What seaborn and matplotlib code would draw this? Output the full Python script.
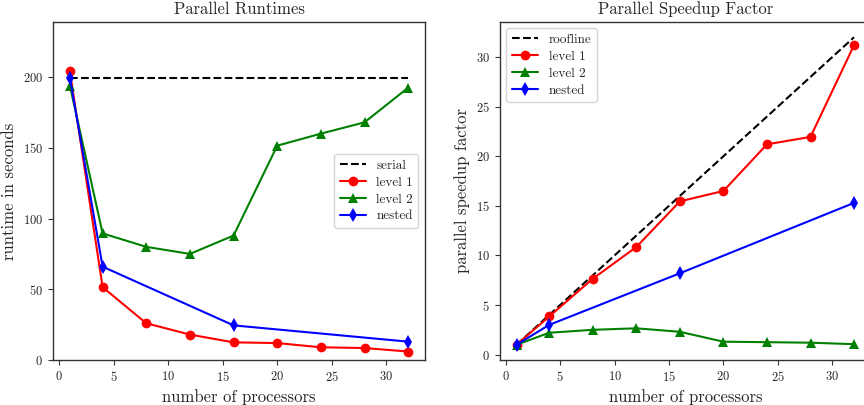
import matplotlib
matplotlib.use("Agg")
import matplotlib.pyplot as plt
import seaborn as sns
import pandas as pd

procs = [1, 4, 8, 12, 16, 20, 24, 28, 32]
nested_procs = [1, 4, 16, 32]
serial_time = [199.5, 199.5]
serial_x = [1, 32]

rt_level1 = [204, 51.5, 26, 18, 12.5, 12, 9, 8.5, 6]
rt_level2 = [194, 89.5, 80, 75, 88, 151.5, 160, 168, 192.5]
rt_nested = [199.5, 66, 24.5, 13]

roof_x = [1, 32]
roof_y = [1, 32]
sp_level1 = [1, 3.85, 7.65, 10.85, 15.45, 16.5, 21.2, 21.95, 31.2]
sp_level2 = [1, 2.2, 2.5, 2.65, 2.3, 1.3, 1.25, 1.2, 1.05]
sp_nested = [1, 3.0, 8.2, 15.3]

sns.set_style("ticks")
plt.rcParams["font.family"] = ["cmr10", "DejaVu Serif"]
plt.rcParams["mathtext.fontset"] = "cm"
plt.rcParams["axes.formatter.use_mathtext"] = True
plt.rcParams["axes.unicode_minus"] = False

fig = plt.figure(figsize=(8.64, 4.05), dpi=100)
ax1 = fig.add_axes([0.0613, 0.111, 0.4307, 0.835])
ax2 = fig.add_axes([0.5784, 0.111, 0.4296, 0.835])

for ax in (ax1, ax2):
    for s in ax.spines.values():
        s.set_visible(True)
        s.set_color("0.2")
        s.set_linewidth(1.0)
    ax.tick_params(labelsize=9, length=3.5, width=0.8, colors="0.2", labelcolor="0.15")

kw = dict(linewidth=1.5, markersize=7, markeredgewidth=0, estimator=None, sort=False)
leg_kw = dict(fontsize=9.5, frameon=True, fancybox=True, framealpha=0.8,
              labelspacing=0.35, handlelength=2.0)

sns.lineplot(x=serial_x, y=serial_time, ax=ax1, color="black", linestyle="--",
             linewidth=1.5, label="serial")
sns.lineplot(x=procs, y=rt_level1, ax=ax1, color="red", marker="o", label="level 1", **kw)
sns.lineplot(x=procs, y=rt_level2, ax=ax1, color="green", marker="^", label="level 2", **kw)
sns.lineplot(x=nested_procs, y=rt_nested, ax=ax1, color="blue", marker="d", label="nested", **kw)
ax1.set_ylim(0, 239)
ax1.set_xlim(-0.55, 33.55)
ax1.set_title("Parallel Runtimes", fontsize=12)
ax1.set_xlabel("number of processors", fontsize=12)
ax1.set_ylabel("runtime in seconds", fontsize=12)
ax1.set_yticks([0, 50, 100, 150, 200])
ax1.set_xticks([0, 5, 10, 15, 20, 25, 30])
ax1.legend(loc="center right", **leg_kw)

sns.lineplot(x=roof_x, y=roof_y, ax=ax2, color="black", linestyle="--",
             linewidth=1.5, label="roofline")
sns.lineplot(x=procs, y=sp_level1, ax=ax2, color="red", marker="o", label="level 1", **kw)
sns.lineplot(x=procs, y=sp_level2, ax=ax2, color="green", marker="^", label="level 2", **kw)
sns.lineplot(x=nested_procs, y=sp_nested, ax=ax2, color="blue", marker="d", label="nested", **kw)
ax2.set_xlim(-0.55, 33.55)
ax2.set_ylim(-0.55, 33.55)
ax2.set_title("Parallel Speedup Factor", fontsize=12)
ax2.set_xlabel("number of processors", fontsize=12)
ax2.set_ylabel("parallel speedup factor", fontsize=12)
ax2.set_yticks([0, 5, 10, 15, 20, 25, 30])
ax2.set_xticks([0, 5, 10, 15, 20, 25, 30])
ax2.legend(loc="upper left", **leg_kw)

fig.savefig("out.png", dpi=100)
